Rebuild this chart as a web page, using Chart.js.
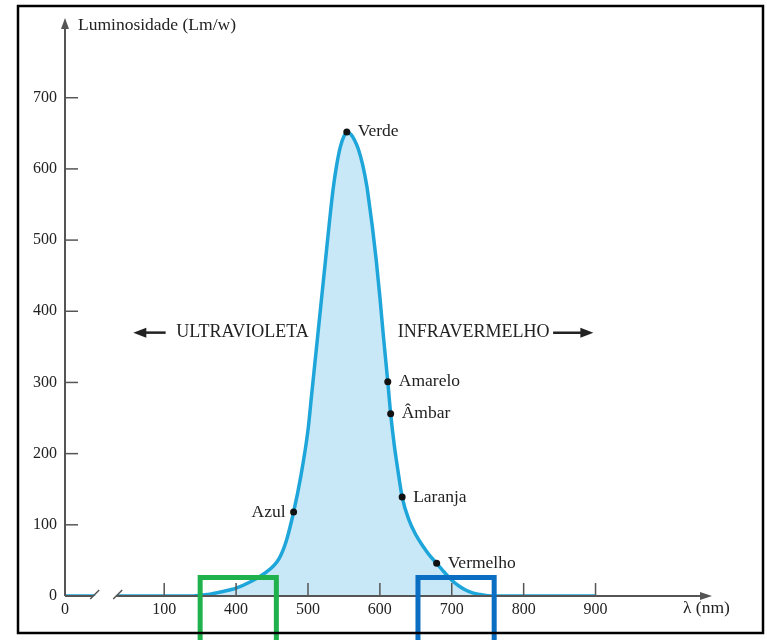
<!DOCTYPE html>
<html>
<head>
<meta charset="utf-8">
<script src="https://cdn.jsdelivr.net/npm/chart.js@4"></script>
<style>
  html, body { margin: 0; padding: 0; background: #fff; }
  #wrap { width: 767px; height: 640px; }
</style>
</head>
<body>
<div id="wrap"><canvas id="grafico" width="767" height="640"></canvas></div>
<script>
// curva de luminosidade (nm -> Lm/w), null = quebra do eixo
const curveNm = [162,204,220,236,300,340,360,380,400,420,440,460,470,480,490,500,505,510,515,520,525,530,535,540,545,550,555,560,565,570,576,582,585,590,595,600,605,611,615,620,625,631,640,650,660,670,679,690,700,710,720,730,740,755,800,900];
const curveLm = [0,0,null,0,0,0,2,6,11,20,32,53,78,118,168,233,282,331,380,429,478,527,572,606,631,646,652,648,640,628,606,575,553,515,471,420,364,301,256,212,177,139,108,86,70,56,46,33,22,14,8,4,2,0,0,0];

// cores marcadas
const pointNames = ['Azul', 'Verde', 'Amarelo', 'Âmbar', 'Laranja', 'Vermelho'];
const pointNm = [480, 554, 611, 615, 631, 679];
const pointLm = [118, 652, 301, 256, 139, 46];

// eixos
const xTickValues = [162, 300, 400, 500, 600, 700, 800, 900];
const xTickLabels = ['0', '100', '400', '500', '600', '700', '800', '900'];
const yTickValues = [0, 100, 200, 300, 400, 500, 600, 700];

const serif = "'Liberation Serif', 'DejaVu Serif', serif";
const textColor = '#222';
const axisColor = '#555';

const decor = {
  id: 'decor',
  afterDraw(chart) {
    const { ctx, chartArea: a, scales: { x, y } } = chart;
    const px = v => x.getPixelForValue(v);
    const py = v => y.getPixelForValue(v);
    ctx.save();

    // eixo y com seta
    ctx.strokeStyle = axisColor;
    ctx.fillStyle = axisColor;
    ctx.lineWidth = 2;
    ctx.beginPath();
    ctx.moveTo(a.left, a.bottom);
    ctx.lineTo(a.left, a.top + 8);
    ctx.stroke();
    ctx.beginPath();
    ctx.moveTo(a.left, a.top);
    ctx.lineTo(a.left - 4, a.top + 11);
    ctx.lineTo(a.left + 4, a.top + 11);
    ctx.closePath();
    ctx.fill();

    // eixo x com quebra e seta
    const brA = 204, brB = 236;
    ctx.beginPath();
    ctx.moveTo(a.left, a.bottom);
    ctx.lineTo(px(brA) - 2, a.bottom);
    ctx.moveTo(px(brB) - 2, a.bottom);
    ctx.lineTo(a.right - 8, a.bottom);
    ctx.stroke();
    ctx.beginPath();
    ctx.moveTo(a.right, a.bottom);
    ctx.lineTo(a.right - 12, a.bottom - 4);
    ctx.lineTo(a.right - 12, a.bottom + 4);
    ctx.closePath();
    ctx.fill();
    ctx.lineWidth = 1.5;
    [brA, brB].forEach(v => {
      ctx.beginPath();
      ctx.moveTo(px(v) - 5, a.bottom + 3);
      ctx.lineTo(px(v) + 4, a.bottom - 6);
      ctx.stroke();
    });

    // marcas internas
    ctx.lineWidth = 1.5;
    yTickValues.slice(1).forEach(v => {
      ctx.beginPath();
      ctx.moveTo(a.left, py(v));
      ctx.lineTo(a.left + 13, py(v));
      ctx.stroke();
    });
    xTickValues.slice(1).forEach(v => {
      ctx.beginPath();
      ctx.moveTo(px(v), a.bottom);
      ctx.lineTo(px(v), a.bottom - 13);
      ctx.stroke();
    });

    // textos
    ctx.fillStyle = textColor;
    ctx.font = '17.5px ' + serif;
    ctx.textBaseline = 'middle';
    ctx.textAlign = 'left';
    ctx.fillText('Luminosidade (Lm/w)', a.left + 13, a.top + 7);
    ctx.fillText('λ (nm)', a.right - 29, a.bottom + 12);

    // nomes das cores
    ctx.font = '17.5px ' + serif;
    const meta = chart.getDatasetMeta(1);
    meta.data.forEach((p, i) => {
      if (pointNames[i] === 'Azul') {
        ctx.textAlign = 'right';
        ctx.fillText(pointNames[i], p.x - 8, p.y);
      } else {
        ctx.textAlign = 'left';
        ctx.fillText(pointNames[i], p.x + 11, p.y);
      }
    });

    // ultravioleta / infravermelho
    const yr = py(370);
    ctx.font = '18px ' + serif;
    ctx.textAlign = 'right';
    ctx.fillText('ULTRAVIOLETA', px(501), yr);
    ctx.textAlign = 'left';
    ctx.fillText('INFRAVERMELHO', px(625), yr);
    ctx.strokeStyle = textColor;
    ctx.fillStyle = textColor;
    ctx.lineWidth = 2.5;
    const arrow = (x0, x1) => {
      const d = x1 > x0 ? 1 : -1;
      ctx.beginPath();
      ctx.moveTo(x0, yr);
      ctx.lineTo(x1 - d * 8, yr);
      ctx.stroke();
      ctx.beginPath();
      ctx.moveTo(x1, yr);
      ctx.lineTo(x1 - d * 13, yr - 5);
      ctx.lineTo(x1 - d * 13, yr + 5);
      ctx.closePath();
      ctx.fill();
    };
    arrow(px(302), px(257));
    arrow(px(841), px(897));

    // destaques
    ctx.lineWidth = 5;
    ctx.strokeStyle = '#1fb24c';
    ctx.strokeRect(px(350), py(26), px(456) - px(350), 80);
    ctx.strokeStyle = '#0a6fc2';
    ctx.strokeRect(px(653), py(26), px(759) - px(653), 80);

    // moldura
    ctx.lineWidth = 2.5;
    ctx.strokeStyle = '#000';
    ctx.strokeRect(18, 6, 745, 627);
    ctx.restore();
  }
};

const ctx = document.getElementById('grafico').getContext('2d');
new Chart(ctx, {
  type: 'line',
  data: {
    datasets: [{
      data: curveNm.map((v, i) => ({ x: v, y: curveLm[i] })),
      borderColor: '#1ea6da',
      borderWidth: 3.5,
      backgroundColor: '#c9e8f7',
      fill: 'origin',
      pointRadius: 0,
      cubicInterpolationMode: 'monotone',
      order: 2
    }, {
      data: pointNm.map((v, i) => ({ x: v, y: pointLm[i] })),
      showLine: false,
      pointRadius: 3.5,
      pointBackgroundColor: '#111',
      pointBorderWidth: 0,
      order: 1
    }]
  },
  options: {
    responsive: false,
    animation: false,
    layout: { padding: { top: 18, right: 55, left: 0, bottom: 0 } },
    plugins: { legend: { display: false }, tooltip: { enabled: false } },
    scales: {
      x: {
        type: 'linear',
        min: 162,
        max: 1062,
        afterBuildTicks: s => { s.ticks = xTickValues.map(v => ({ value: v })); },
        afterFit: s => { s.height = 44; },
        grid: { display: false, drawTicks: false },
        border: { display: false },
        ticks: {
          padding: 4,
          autoSkip: false,
          maxRotation: 0,
          color: textColor,
          font: { family: serif, size: 16 },
          callback: (v) => xTickLabels[xTickValues.indexOf(v)]
        }
      },
      y: {
        min: 0,
        max: 812,
        afterBuildTicks: s => { s.ticks = yTickValues.map(v => ({ value: v })); },
        afterFit: s => { s.width = 65; },
        grid: { display: false, drawTicks: false },
        border: { display: false },
        ticks: {
          padding: 8,
          color: textColor,
          font: { family: serif, size: 16 }
        }
      }
    }
  },
  plugins: [decor]
});
</script>
</body>
</html>
